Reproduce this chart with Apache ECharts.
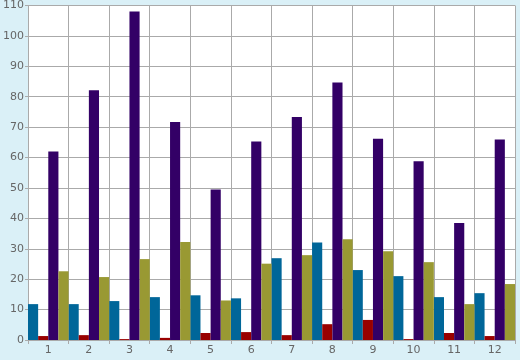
<!DOCTYPE html>
<html><head><meta charset="utf-8">
<script src="https://cdn.jsdelivr.net/npm/echarts@6/dist/echarts.min.js"></script>
<style>html,body{margin:0;padding:0;background:#daf0f7;}#c{width:520px;height:360px;}</style>
</head><body><div id="c"></div>
<script>
const categories = ['1','2','3','4','5','6','7','8','9','10','11','12'];
const seriesBlue   = [11.8, 11.8, 12.8, 14.1, 14.7, 13.7, 26.9, 32.1, 23.0, 21.0, 14.1, 15.4];
const seriesRed    = [1.3, 1.6, 0.3, 0.7, 2.3, 2.6, 1.6, 5.2, 6.6, 0.3, 2.3, 1.3];
const seriesPurple = [62.0, 82.1, 108.0, 71.7, 49.5, 65.3, 73.3, 84.7, 66.2, 58.8, 38.5, 65.9];
const seriesOlive  = [22.6, 20.7, 26.6, 32.2, 13.0, 25.1, 27.9, 33.1, 29.2, 25.6, 11.8, 18.4];

const chart = echarts.init(document.getElementById('c'), null, {renderer:'canvas'});
const lineC = '#aaaaaa';
const txt = {color:'#666666', fontFamily:'DejaVu Sans', fontSize:11};
const mk = (data, color) => ({type:'bar', data, itemStyle:{color}, barGap:'0%', barCategoryGap:'0%', animation:false});
chart.setOption({
  backgroundColor:'#daf0f7',
  animation:false,
  grid:{left:26, right:5, top:5, bottom:20, show:true, backgroundColor:'#ffffff', borderWidth:0},
  xAxis:{type:'category', data:categories, boundaryGap:true,
    axisLine:{show:true, lineStyle:{color:lineC}},
    axisTick:{show:true, length:4, lineStyle:{color:lineC}},
    axisLabel:Object.assign({margin:5}, txt),
    splitLine:{show:true, lineStyle:{color:lineC, width:1}}},
  yAxis:{type:'value', min:0, max:110, interval:10,
    axisLine:{show:true, lineStyle:{color:lineC}},
    axisTick:{show:true, length:3, lineStyle:{color:lineC}},
    axisLabel:Object.assign({margin:4}, txt),
    splitLine:{show:true, lineStyle:{color:lineC, width:1}}},
  series:[mk(seriesBlue,'#006699'), mk(seriesRed,'#990000'), mk(seriesPurple,'#330066'), mk(seriesOlive,'#999933')]
});
</script></body></html>
